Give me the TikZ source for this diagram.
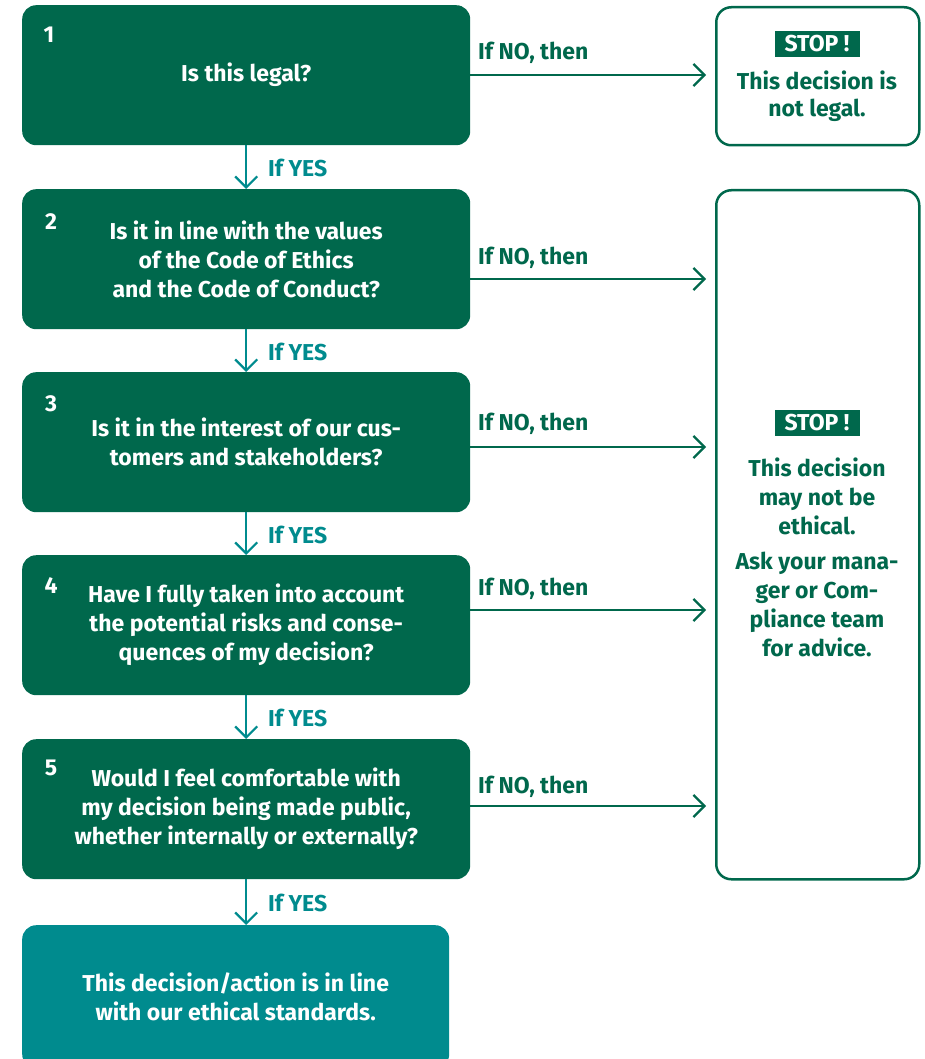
\documentclass[tikz,border=0pt]{standalone}
\usepackage{fontspec}
\setmainfont{Fira Sans}
\usetikzlibrary{arrows.meta,calc}
\definecolor{dkgreen}{RGB}{0,104,76}
\definecolor{tealc}{RGB}{0,139,142}
\begin{document}
\begin{tikzpicture}[x=1pt,y=-1pt,
  every node/.style={font=\bfseries\fontsize{23}{29}\selectfont},
  qbox/.style={fill=dkgreen, rounded corners=14pt, text=white, align=center,
    minimum width=448pt, minimum height=140pt, anchor=north west, inner sep=0pt},
  fbox/.style={fill=tealc, rounded corners=14pt, text=white, align=center,
    minimum width=427pt, minimum height=143pt, anchor=north west, inner sep=0pt},
  rbox/.style={draw=dkgreen, line width=2.5pt, rounded corners=15pt, fill=white,
    minimum width=203pt, anchor=north west, inner sep=0pt},
  num/.style={text=white, inner sep=0pt},
  stoplbl/.style={fill=dkgreen, text=white, minimum width=85pt, minimum height=26pt, inner sep=0pt},
  rtext/.style={text=dkgreen, align=center, inner sep=0pt},
  yeslbl/.style={text=tealc, anchor=west, inner sep=0pt},
  nolbl/.style={text=dkgreen, anchor=west, inner sep=0pt},
  yarrow/.style={draw=tealc, line width=2.2pt, -{Straight Barb[length=11pt,width=22pt]}},
  narrow/.style={draw=dkgreen, line width=2.2pt, -{Straight Barb[length=11pt,width=22pt]}, shorten >=9pt},
]
\useasboundingbox (0,0) rectangle (924,1059);

% question boxes
\node[qbox] (b1) at (22,5) {Is this legal?};
\node[qbox] (b2) at (22,189) {Is it in line with the values\\of the Code of Ethics\\and the Code of Conduct?};
\node[qbox] (b3) at (22,372) {Is it in the interest of our cus-\\tomers and stakeholders?};
\node[qbox] (b4) at (22,555) {Have I fully taken into account\\the potential risks and conse-\\quences of my decision?};
\node[qbox] (b5) at (22,739) {Would I feel comfortable with\\my decision being made public,\\whether internally or externally?};
\node[fbox] (f) at (22,925) {This decision/action is in line\\with our ethical standards.};

% numbers
\node[num] (n1) at (49,35) {1};
\node[num] (n2) at (51,222) {2};
\node[num] (n3) at (51,404) {3};
\node[num] (n4) at (51,586) {4};
\node[num] (n5) at (51,768) {5};

% right boxes
\node[rbox, minimum height=138pt] (r1) at (715,6) {};
\node[rbox, minimum height=689pt] (r2) at (715,189) {};
\node[stoplbl] (s1) at (817,44) {STOP !};
\node[rtext, font=\bfseries\fontsize{23}{27}\selectfont] (t1) at (817,96) {This decision is\\not legal.};
\node[stoplbl] (s2) at (817,423) {STOP !};
\node[rtext] (t2) at (817,496) {This decision\\may not be\\ethical.};
\node[rtext] (t3) at (817,604.5) {Ask your mana-\\ger or Com-\\pliance team\\for advice.};

% yes arrows
\draw[yarrow] (b1.south) -- (b2.north);
\draw[yarrow] (b2.south) -- (b3.north);
\draw[yarrow] (b3.south) -- (b4.north);
\draw[yarrow] (b4.south) -- (b5.north);
\draw[yarrow] (b5.south) -- (f.north -| b5.south);
\node[yeslbl] (y1) at (268,168) {If YES};
\node[yeslbl] (y2) at (268,352) {If YES};
\node[yeslbl] (y3) at (268,535) {If YES};
\node[yeslbl] (y4) at (268,718) {If YES};
\node[yeslbl] (y5) at (268,903) {If YES};

% no arrows
\draw[narrow] (b1.east |- 0,75) -- (r1.west |- 0,75);
\draw[narrow] (b2.east |- 0,279) -- (r2.west |- 0,279);
\draw[narrow] (b3.east |- 0,447) -- (r2.west |- 0,447);
\draw[narrow] (b4.east |- 0,610) -- (r2.west |- 0,610);
\draw[narrow] (b5.east |- 0,806) -- (r2.west |- 0,806);
\node[nolbl] (o1) at (478,53) {If NO, then};
\node[nolbl] (o2) at (478,258) {If NO, then};
\node[nolbl] (o3) at (478,424) {If NO, then};
\node[nolbl] (o4) at (478,589) {If NO, then};
\node[nolbl] (o5) at (478,787) {If NO, then};
\end{tikzpicture}
\end{document}
